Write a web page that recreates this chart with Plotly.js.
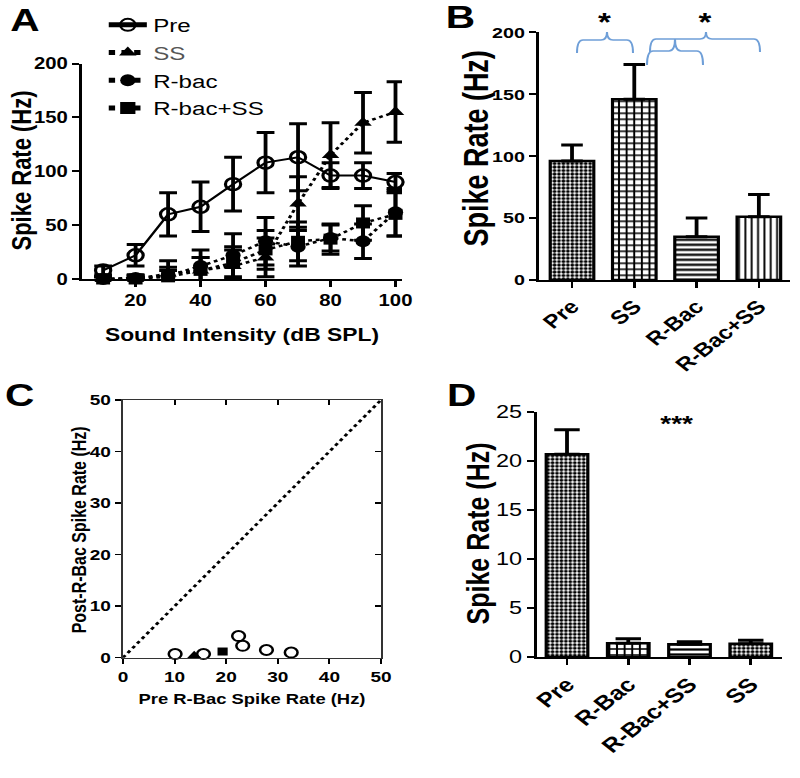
<!DOCTYPE html>
<html><head><meta charset="utf-8">
<script src="https://cdn.plot.ly/plotly-3.0.1.min.js"></script>
<style>
html,body{margin:0;padding:0;background:#fff;overflow:hidden;}
#wrap{width:800px;height:778px;overflow:hidden;}
#chart{width:630px;height:778px;transform:scale(1.26984,1);transform-origin:0 0;}
</style></head><body><div id="wrap"><div id="chart"></div></div>
<script>
// ---------- Panel A: spike rate vs sound intensity ----------
const intensity = [10,20,30,40,50,60,70,80,90,100];
const preA       = [8,22,60,67,88,108,113,96,96,90];
const preAErr    = [4,10,20,23,25,28,31,12,12,8];
const ssA        = [0,0,5,8,12,20,70,115,145,155];
const ssAErr     = [2,3,12,12,15,18,25,30,28,28];
const rbacA      = [0,1,3,12,22,35,30,38,35,62];
const rbacAErr   = [2,3,8,15,20,22,18,12,16,22];
const rbacSsA    = [0,0,2,8,15,27,35,37,52,60];
const rbacSsAErr = [2,3,6,12,15,18,18,14,16,20];

// ---------- Panel B: mean spike rate ----------
const catsB = ['Pre','SS','R-Bac','R-Bac+SS'];
const valsB = [96,146,35,51];
const errB  = [13,28,15,18];

// ---------- Panel C: pre vs post R-Bac ----------
const preC_open   = [10.1,15.6,22.4,23.2,27.8,32.6];
const postC_open  = [0.7,0.7,4.2,2.3,1.5,1.0];
const preC_tri    = [13.8];
const postC_tri   = [0.4];
const preC_sq     = [19.3];
const postC_sq    = [1.2];
const identityX   = [0,50];
const identityY   = [0,50];

// ---------- Panel D: spontaneous rate ----------
const catsD = ['Pre','R-Bac','R-Bac+SS','SS'];
const valsD = [20.7,1.4,1.3,1.35];
const errD  = [2.5,0.45,0.25,0.35];

const FONT = 'Arial, "Liberation Sans", sans-serif';
const W = 800, H = 778;
const px = x => x / W;
const py = y => 1 - y / H;

const errStyle = (arr) => ({type:'data', array:arr, visible:true, color:'black', thickness:3, width:7});

const traces = [];
// Panel A traces (dotted series first, Pre on top)
traces.push({x:intensity, y:rbacSsA, name:'R-bac+SS', legendrank:4, type:'scatter', mode:'lines+markers',
  line:{color:'black', width:2.5, dash:'dot'}, marker:{symbol:'square', size:11, color:'black'},
  error_y:errStyle(rbacSsAErr), cliponaxis:false, xaxis:'x', yaxis:'y'});
traces.push({x:intensity, y:rbacA, name:'R-bac', legendrank:3, type:'scatter', mode:'lines+markers',
  line:{color:'black', width:2.5, dash:'dot'}, marker:{symbol:'circle', size:12, color:'black'},
  error_y:errStyle(rbacAErr), cliponaxis:false, xaxis:'x', yaxis:'y'});
traces.push({x:intensity, y:ssA, name:'<span style="color:#555">SS</span>', legendrank:2, type:'scatter', mode:'lines+markers',
  line:{color:'black', width:2.5, dash:'dot'}, marker:{symbol:'triangle-up', size:12, color:'black'},
  error_y:errStyle(ssAErr), cliponaxis:false, xaxis:'x', yaxis:'y'});
traces.push({x:intensity, y:preA, name:'Pre', legendrank:1, type:'scatter', mode:'lines+markers',
  line:{color:'black', width:2}, marker:{symbol:'circle-open', size:12, color:'black', line:{width:2.5, color:'black'}},
  error_y:errStyle(preAErr), cliponaxis:false, xaxis:'x', yaxis:'y'});

// Panel B bars
traces.push({x:catsB, y:valsB, type:'bar', width:0.7, showlegend:false, xaxis:'x2', yaxis:'y2',
  marker:{color:'white', line:{color:'black', width:2.5},
    pattern:{shape:['.', '+', '-', '|'], size:[3.5,6,5,5], solidity:[0.6,0.45,0.45,0.3], fgcolor:'black', bgcolor:'white', fillmode:'replace'}},
  error_y:{type:'data', symmetric:false, array:errB, arrayminus:errB.map(()=>0), color:'black', thickness:3, width:8.5}});

// Panel C scatter
traces.push({x:identityX, y:identityY, type:'scatter', mode:'lines', showlegend:false, xaxis:'x5', yaxis:'y5',
  line:{color:'black', width:2.5, dash:'dot'}});
traces.push({x:preC_open, y:postC_open, type:'scatter', mode:'markers', showlegend:false, xaxis:'x3', yaxis:'y3', cliponaxis:false,
  marker:{symbol:'circle-open', size:10, color:'black', line:{width:2, color:'black'}}});
traces.push({x:preC_tri, y:postC_tri, type:'scatter', mode:'markers', showlegend:false, xaxis:'x3', yaxis:'y3', cliponaxis:false,
  marker:{symbol:'triangle-up', size:10, color:'black'}});
traces.push({x:preC_sq, y:postC_sq, type:'scatter', mode:'markers', showlegend:false, xaxis:'x3', yaxis:'y3', cliponaxis:false,
  marker:{symbol:'square', size:8, color:'black'}});

// Panel D bars
traces.push({x:catsD, y:valsD, type:'bar', width:0.68, showlegend:false, xaxis:'x4', yaxis:'y4',
  marker:{color:'white', line:{color:'black', width:2.5},
    pattern:{shape:['.', '+', '-', '.'], size:[3.5,6,5,3.5], solidity:[0.6,0.45,0.45,0.6], fgcolor:'black', bgcolor:'white', fillmode:'replace'}},
  error_y:{type:'data', symmetric:false, array:errD, arrayminus:errD.map(()=>0), color:'black', thickness:3, width:10}});

const tickF = (s, bold=true) => ({family:FONT, size:s, color:'black', weight: bold ? 'bold' : 'normal'});
const baseAxis = {showgrid:false, zeroline:false, showline:true, linecolor:'black', linewidth:2,
  ticks:'outside', ticklen:6, tickwidth:2, tickcolor:'black', automargin:false, fixedrange:true};

function brace(x1, x2, xm, yEnd, yLine, yTip){
  const r = 6;
  const P = (x,y) => px(x).toFixed(5) + ',' + py(y).toFixed(5);
  return 'M' + P(x1,yEnd) + ' Q' + P(x1,yLine) + ' ' + P(x1+r,yLine) +
         ' L' + P(xm-r,yLine) + ' Q' + P(xm,yLine) + ' ' + P(xm,yTip) +
         ' Q' + P(xm,yLine) + ' ' + P(xm+r,yLine) +
         ' L' + P(x2-r,yLine) + ' Q' + P(x2,yLine) + ' ' + P(x2,yEnd);
}
const braceStyle = {type:'path', xref:'paper', yref:'paper', line:{color:'#6f9fd8', width:1.6}};

const ann = (text, x, y, size, extra={}) => Object.assign({text, x:px(x), y:py(y), xref:'paper', yref:'paper',
  showarrow:false, xanchor:'center', yanchor:'middle', font:{family:FONT, size, color:'black', weight:'bold'}}, extra);

const layout = {
  width:630, height:778, margin:{l:0,r:0,t:0,b:0}, paper_bgcolor:'white', plot_bgcolor:'rgba(0,0,0,0)',
  font:{family:FONT, color:'black'},
  showlegend:true,
  legend:{x:0.128, y:py(6), xanchor:'left', yanchor:'top', bgcolor:'rgba(0,0,0,0)', borderwidth:0,
    font:{family:FONT, size:19, color:'black'}, tracegroupgap:0, itemsizing:'constant', itemwidth:30},
  bargap:0.3,
  // Panel A
  xaxis: Object.assign({}, baseAxis, {domain:[px(82), px(402)], anchor:'y', range:[3.5,102], dtick:20, tick0:0,
    tickfont:tickF(16), title:{text:'Sound Intensity (dB SPL)', font:tickF(18), standoff:20}}),
  yaxis: Object.assign({}, baseAxis, {domain:[py(279), py(63.5)], anchor:'x', range:[0,200], dtick:50,
    tickfont:tickF(16)}),
  // Panel B
  xaxis2: Object.assign({}, baseAxis, {domain:[px(539), px(790)], anchor:'y2', type:'category', range:[-0.53,3.5],
    tickangle:-45, tickfont:tickF(19)}),
  yaxis2: Object.assign({}, baseAxis, {domain:[py(280), py(32.3)], anchor:'x2', range:[0,200], dtick:50,
    tickfont:tickF(15.5)}),
  // Panel C
  xaxis3: Object.assign({}, baseAxis, {domain:[px(123), px(381)], anchor:'y3', range:[0,50], dtick:10,
    linewidth:1.5, linecolor:'#333', ticklen:5, tickwidth:1.5, tickfont:tickF(15),
    title:{text:'Pre R-Bac Spike Rate (Hz)', font:tickF(14.5), standoff:9}}),
  yaxis3: Object.assign({}, baseAxis, {domain:[py(657.7), py(400)], anchor:'x3', range:[0,50], dtick:10,
    linewidth:1.5, linecolor:'#333', ticklen:5, tickwidth:1.5, tickfont:tickF(15)}),
  xaxis5: Object.assign({}, baseAxis, {overlaying:'x3', side:'top', anchor:'y5', range:[0,50], dtick:10,
    linewidth:1.5, linecolor:'#333', ticks:'inside', ticklen:5, tickwidth:1.5, showticklabels:false}),
  yaxis5: Object.assign({}, baseAxis, {overlaying:'y3', side:'right', anchor:'x5', range:[0,50], dtick:10,
    linewidth:1.5, linecolor:'#333', ticks:'inside', ticklen:5, tickwidth:1.5, showticklabels:false}),
  // Panel D
  xaxis4: Object.assign({}, baseAxis, {domain:[px(537), px(782)], anchor:'y4', type:'category', range:[-0.49,3.51],
    tickangle:-45, tickfont:tickF(20)}),
  yaxis4: Object.assign({}, baseAxis, {domain:[py(657), py(412)], anchor:'x4', range:[0,25], dtick:5,
    tickfont:tickF(18.5, false)}),
  shapes:[
    Object.assign({path:brace(577,633,607,53,40,32)}, braceStyle),
    Object.assign({path:brace(650,760,706,52,39,32)}, braceStyle),
    Object.assign({path:brace(647,703,675,65,51,39)}, braceStyle)
  ],
  annotations:[
    ann('A', 25, 20, 32), ann('B', 460, 17, 32), ann('C', 20, 395, 32), ann('D', 462, 395, 32),
    ann('*', 605, 22, 26), ann('*', 705, 22, 26), ann('***', 677, 424, 22),
    // y-axis titles
    ann('Spike Rate (Hz)', 21, 171, 22, {textangle:-90}),
    ann('Spike Rate (Hz)', 477, 148, 27, {textangle:-90}),
    ann('Post-R-Bac Spike Rate (Hz)', 78, 530, 16, {textangle:-90}),
    ann('Spike Rate (Hz)', 478, 533, 25, {textangle:-90})
  ]
};

Plotly.newPlot('chart', traces, layout, {displayModeBar:false, staticPlot:true});
</script></body></html>
